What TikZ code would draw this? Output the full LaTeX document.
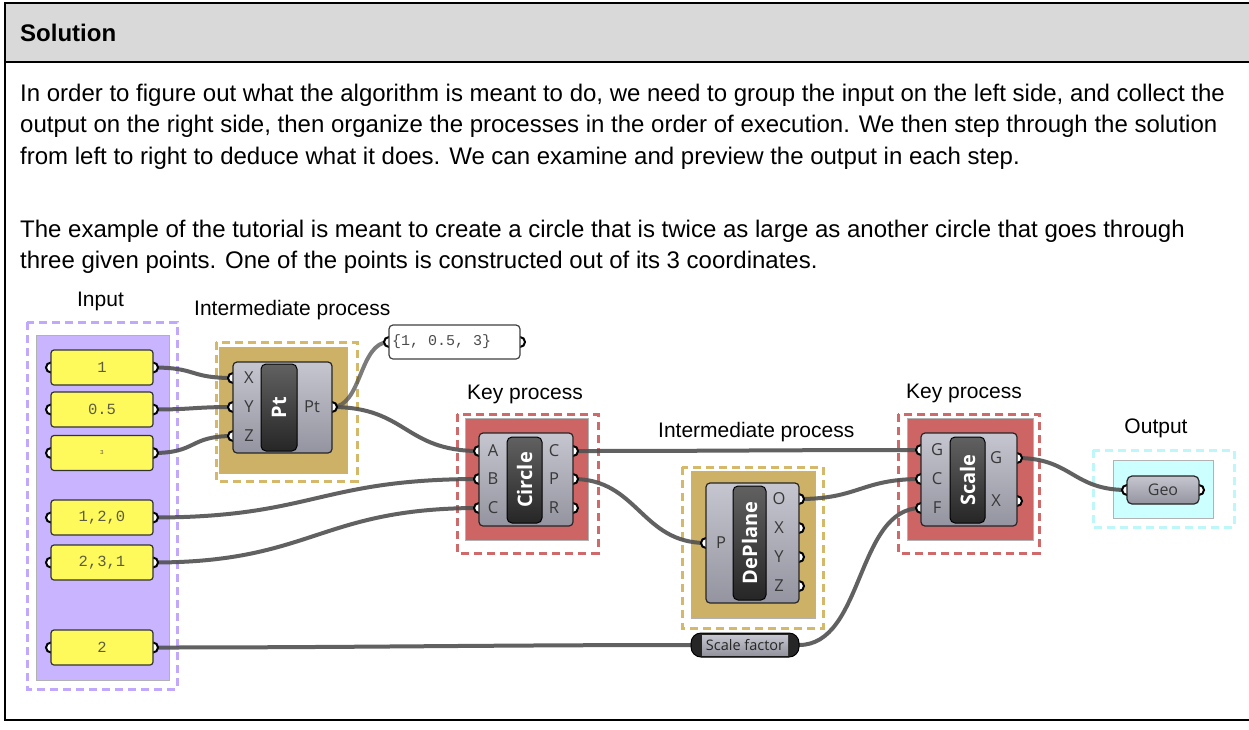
\documentclass[tikz,border=0pt]{standalone}
\usepackage{fontspec}
\setmainfont{Liberation Sans}
\newfontfamily\panelfont{Liberation Mono}
\newfontfamily\ghfont{Open Sans}
\definecolor{hdrgray}{HTML}{D9D9D9}
\definecolor{purpfill}{HTML}{C8B4FF}
\definecolor{purpdash}{HTML}{C0A8FC}
\definecolor{goldfill}{HTML}{CDB167}
\definecolor{golddash}{HTML}{D6B869}
\definecolor{redfill}{HTML}{CD6565}
\definecolor{reddash}{HTML}{D06A6A}
\definecolor{cyanfill}{HTML}{CCFFFF}
\definecolor{cyandash}{HTML}{BDF7FA}
\definecolor{panelyellow}{HTML}{FFFA5C}
\definecolor{paneltext}{HTML}{5C5C40}
\definecolor{wirecol}{HTML}{505050}
\definecolor{bodytop}{HTML}{C6C6D0}
\definecolor{bodybot}{HTML}{9494A0}
\definecolor{labelcol}{HTML}{383838}
\tikzset{
  grpdash/.style={dash pattern=on 8pt off 5pt, line width=3pt},
  grpfill/.style={draw=black!30, line width=0.6pt},
  panel/.style={draw=black!80, line width=1.2pt, fill=panelyellow, rounded corners=3pt,
    minimum width=102pt, minimum height=35pt, inner sep=0pt,
    font=\panelfont\fontsize{15.5}{15.5}\selectfont, text=paneltext},
  ghbody/.style={draw=black!85, line width=1.2pt, rounded corners=4pt,
    top color=bodytop, bottom color=bodybot, inner sep=0pt},
  ghcap/.style={draw=black, line width=1pt, rounded corners=5pt,
    top color=black!62, bottom color=black!85, inner sep=0pt},
  captext/.style={rotate=90, text=white, font=\ghfont\bfseries\fontsize{20}{20}\selectfont, inner sep=0pt},
  plabel/.style={text=labelcol, font=\ghfont\fontsize{16.5}{16.5}\selectfont, inner sep=0pt},
  grplabel/.style={font=\fontsize{21}{21}\selectfont, inner sep=0pt, anchor=base},
  bodytext/.style={font=\fontsize{24}{28}\selectfont, inner sep=0pt, anchor=base west},
  wire/.style={draw=wirecol, line width=4pt, opacity=0.9},
  portc/.style={draw=black, fill=white, line width=2pt},
}
\begin{document}
\begin{tikzpicture}[x=1pt,y=-1pt]
\useasboundingbox (0,0) rectangle (1249,729);
\fill[white] (0,0) rectangle (1249,729);
% frame and header
\fill[hdrgray] (5,3) rectangle (1249,62);
\draw[black, line width=2pt] (1249,3) -- (5,3) -- (5,720) -- (1249,720);
\draw[black, line width=2pt] (5,62) -- (1249,62);
\node[font=\bfseries\fontsize{24}{28}\selectfont, inner sep=0pt, anchor=base west] (title) at (20,41) {Solution};
% paragraph text
\node[bodytext] (l1) at (20,101) {In order to figure out what the algorithm is meant to do, we need to group the input on the left side, and collect the};
\node[bodytext] (l2) at (20,132) {output on the right side, then organize the processes in the order of execution. We then step through the solution};
\node[bodytext] (l3) at (20,164) {from left to right to deduce what it does. We can examine and preview the output in each step.};
\node[bodytext] (l4) at (20,237) {The example of the tutorial is meant to create a circle that is twice as large as another circle that goes through};
\node[bodytext] (l5) at (20,268) {three given points. One of the points is constructed out of its 3 coordinates.};
% group labels
\node[grplabel] (gInput) at (100.5,306) {Input};
\node[grplabel, anchor=base west] (gInt1) at (194,315) {Intermediate process};
\node[grplabel] (gKey1) at (525,399) {Key process};
\node[grplabel, anchor=base west] (gInt2) at (658,437) {Intermediate process};
\node[grplabel] (gKey2) at (964,398) {Key process};
\node[grplabel] (gOut) at (1156,433) {Output};
% group fills
\filldraw[grpfill, fill=purpfill] (36,335) rectangle (169,680);
\draw[grpdash, purpdash] (27,322) rectangle (177,689);
\filldraw[grpfill, fill=goldfill] (219,347) rectangle (347,473);
\draw[grpdash, golddash] (216,342) rectangle (357,481);
\filldraw[grpfill, fill=redfill] (465,418) rectangle (588,540);
\draw[grpdash, reddash] (457,414) rectangle (598,553);
\filldraw[grpfill, fill=goldfill] (691,471) rectangle (815,618);
\draw[grpdash, golddash] (682,467) rectangle (823,628);
\filldraw[grpfill, fill=redfill] (907,418) rectangle (1033,540);
\draw[grpdash, reddash] (898,414) rectangle (1039,553);
\filldraw[grpfill, fill=cyanfill, draw=black!30] (1113,460) rectangle (1213,518);
\draw[grpdash, cyandash] (1093,450) rectangle (1234,527);
% port coordinates
\coordinate (ptX) at (233,378);
\coordinate (ptY) at (233,407);
\coordinate (ptZ) at (233,436);
\coordinate (ptO) at (332,407);
\coordinate (cA) at (479,451);
\coordinate (cB) at (479,479);
\coordinate (cC) at (479,508);
\coordinate (cCo) at (573,451);
\coordinate (cPo) at (573,479);
\coordinate (cRo) at (573,508);
\coordinate (dP) at (706,543);
\coordinate (dO) at (799,499);
\coordinate (dX) at (799,528);
\coordinate (dY) at (799,557);
\coordinate (dZ) at (799,586);
\coordinate (sG) at (921,450);
\coordinate (sC) at (921,479);
\coordinate (sF) at (921,508);
\coordinate (sGo) at (1017,458);
\coordinate (sXo) at (1017,501);
\coordinate (geoIn) at (1127,490);
\coordinate (geoOut) at (1199,490);
\coordinate (sfIn) at (691,645);
\coordinate (sfOut) at (799,645);
\coordinate (pnlIn) at (389,342);
\coordinate (pnlOut) at (520,342);
\coordinate (n1o) at (153,367.5);
\coordinate (n05o) at (153,409.5);
\coordinate (n3o) at (153,453);
\coordinate (n120o) at (153,517.5);
\coordinate (n231o) at (153,562.5);
\coordinate (n2o) at (153,647.5);
% wires
\draw[wire] (n1o) .. controls +(45,0) and +(-45,0) .. (ptX);
\draw[wire] (n05o) .. controls +(40,0) and +(-40,0) .. (ptY);
\draw[wire] (n3o) .. controls +(45,0) and +(-45,0) .. (ptZ);
\draw[wire, opacity=0.75] (ptO) .. controls +(30,0) and +(-30,0) .. (pnlIn);
\draw[wire] (ptO) .. controls +(75,0) and +(-75,0) .. (cA);
\draw[wire] (n120o) .. controls +(160,0) and +(-160,0) .. (cB);
\draw[wire] (n231o) .. controls +(160,0) and +(-160,0) .. (cC);
\draw[wire] (n2o) .. controls +(200,0) and +(-200,0) .. (sfIn);
\draw[wire] (cCo) .. controls +(150,0) and +(-150,0) .. (sG);
\draw[wire] (cPo) .. controls +(65,0) and +(-65,0) .. (dP);
\draw[wire] (dO) .. controls +(60,0) and +(-60,0) .. (sC);
\draw[wire] (sfOut) .. controls +(65,0) and +(-65,0) .. (sF);
\draw[wire] (sGo) .. controls +(55,0) and +(-55,0) .. (geoIn);
% ports
\foreach \p in {ptX,ptY,ptZ,ptO,cA,cB,cC,cCo,cPo,cRo,dP,dO,dX,dY,dZ,sG,sC,sF,sGo,sXo,geoIn,geoOut,pnlIn,pnlOut}
  \filldraw[portc] (\p) circle (5pt);
\foreach \y in {367.5,409.5,453,517.5,562.5,647.5} {
  \filldraw[portc] (51,\y) circle (5pt);
  \filldraw[portc] (153,\y) circle (5pt);
}
% input panels
\node[panel] (n1) at (102,367.5) {1};
\node[panel] (n05) at (102,409.5) {0.5};
\node[panel, font=\panelfont\fontsize{6}{6}\selectfont] (n3) at (102,453) {3};
\node[panel] (n120) at (102,517.5) {1,2,0};
\node[panel] (n231) at (102,562.5) {2,3,1};
\node[panel] (n2) at (102,647.5) {2};
% output panel
\node[draw=black!75, line width=1.2pt, fill=white, rounded corners=4pt, minimum width=131pt,
  minimum height=34pt, inner sep=0pt] (pnl) at (454.5,342) {};
\node[anchor=west, inner sep=0pt, font=\panelfont\fontsize{15}{15}\selectfont, text=black!70] (pnltxt) at (392,342) {\{1, 0.5, 3\}};
% Pt component
\node[ghbody, minimum width=99pt, minimum height=91pt] (pt) at (282.5,407.5) {};
\node[ghcap, minimum width=36pt, minimum height=87pt] (ptcap) at (279,407.5) {};
\node[captext] (ptname) at (279,407.5) {Pt};
\node[plabel] (ptXl) at (249,378) {X};
\node[plabel] (ptYl) at (249,407) {Y};
\node[plabel] (ptZl) at (249,436) {Z};
\node[plabel] (ptOl) at (312,407) {Pt};
% Circle component
\node[ghbody, minimum width=94pt, minimum height=93pt] (circ) at (526,479.5) {};
\node[ghcap, minimum width=35pt, minimum height=86pt] (circcap) at (524.5,480) {};
\node[captext] (circname) at (524.5,480) {Circle};
\node[plabel] (cAl) at (493,451) {A};
\node[plabel] (cBl) at (493,479) {B};
\node[plabel] (cCl) at (493,508) {C};
\node[plabel] (cCol) at (554,451) {C};
\node[plabel] (cPol) at (554,479) {P};
\node[plabel] (cRol) at (554,508) {R};
% DePlane component
\node[ghbody, minimum width=93pt, minimum height=120pt] (dep) at (752.5,543) {};
\node[ghcap, minimum width=33pt, minimum height=114pt] (depcap) at (749.5,543) {};
\node[captext] (depname) at (749.5,543) {DePlane};
\node[plabel] (dPl) at (721,543) {P};
\node[plabel] (dOl) at (779,499) {O};
\node[plabel] (dXl) at (779,528) {X};
\node[plabel] (dYl) at (779,557) {Y};
\node[plabel] (dZl) at (779,586) {Z};
% Scale component
\node[ghbody, minimum width=96pt, minimum height=93pt] (scl) at (969,479.5) {};
\node[ghcap, minimum width=35pt, minimum height=86pt] (sclcap) at (967.5,480) {};
\node[captext] (sclname) at (967.5,480) {Scale};
\node[plabel] (sGl) at (937,450) {G};
\node[plabel] (sCl) at (937,479) {C};
\node[plabel] (sFl) at (937,508) {F};
\node[plabel] (sGol) at (996,458) {G};
\node[plabel] (sXol) at (996,501) {X};
% Geo
\node[ghbody, minimum width=72pt, minimum height=28pt, rounded corners=5pt] (geo) at (1163,490) {};
\node[plabel, font=\ghfont\fontsize{16}{16}\selectfont] (geol) at (1163,490) {Geo};
% Scale factor
\node[draw=black, line width=1pt, fill=black!85, rounded corners=10pt, minimum width=108pt,
  minimum height=24pt, inner sep=0pt] (sf) at (745,645) {};
\node[ghbody, rounded corners=0pt, draw=none, minimum width=86pt, minimum height=20pt] (sfmid) at (745,645) {};
\node[plabel, font=\ghfont\fontsize{14.5}{14.5}\selectfont, text=black!85] (sfl) at (745,645) {Scale factor};
\end{tikzpicture}
\end{document}
